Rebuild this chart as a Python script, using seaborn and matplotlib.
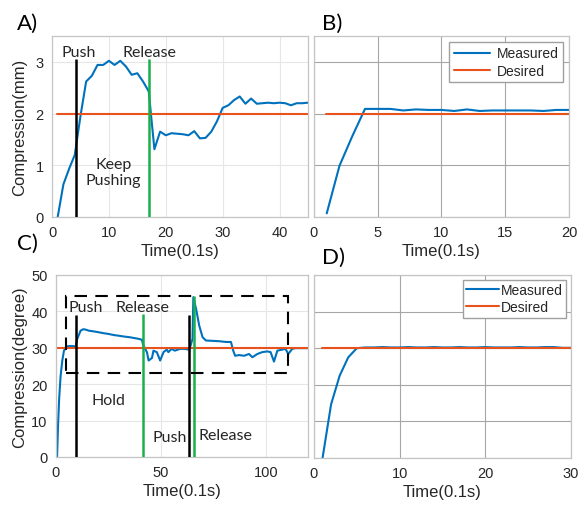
import matplotlib
matplotlib.use("Agg")
import matplotlib.pyplot as plt
from matplotlib.patches import Rectangle
import pandas as pd
import seaborn as sns

# ---- Panel A: linear compression (mm) with push / release events ----
a_time = list(range(1, 46))
a_measured = [0, 0.63, 0.93, 1.2, 1.95, 2.62, 2.73, 2.94, 2.94, 3.02,
              2.94, 3.02, 2.91, 2.75, 2.78, 2.62, 2.43, 1.31, 1.65, 1.58,
              1.62, 1.61, 1.60, 1.58, 1.66, 1.52, 1.53, 1.65, 1.85, 2.11,
              2.16, 2.26, 2.33, 2.19, 2.29, 2.19, 2.20, 2.21, 2.20, 2.21,
              2.20, 2.16, 2.20, 2.20, 2.21]
a_desired_time = [0.94, 45]
a_desired = [2, 2]
a_push_time = [4.2]
a_release_time = [17.0]
a_event_top = 3.05

# ---- Panel B: linear compression step response ----
b_time = list(range(1, 21))
b_measured = [0.07, 0.99, 1.56, 2.09, 2.09, 2.09, 2.06, 2.08, 2.07, 2.07,
              2.05, 2.08, 2.05, 2.06, 2.06, 2.06, 2.06, 2.05, 2.07, 2.07]
b_desired_time = [0.94, 20]
b_desired = [2, 2]

# ---- Panel C: angular compression (degree) with push / release events ----
c_time = [0.5, 1, 1.5, 2.2, 3, 3.8, 5.1, 7, 9.4, 10.1, 11.7, 13, 14.1, 15.6,
          18, 20, 22.7, 25, 27.5, 30, 32.2, 35, 37, 39, 40.9, 41.6, 43.3,
          44.1, 45.7, 46.4, 48, 49.6, 51.2, 52.7, 53.5, 55, 56.6, 59, 61.1,
          63.5, 65, 65.4, 66.7, 68.2, 69.8, 71.4, 74.6, 77.7, 80.9, 83.3,
          84.4, 85.3, 87.2, 89.6, 91.9, 93.5, 95.9, 98.2, 100.6, 102.2,
          103.8, 105.4, 107.7, 109.3, 110.6, 112.5, 114, 117, 120]
c_measured = [0, 9, 16, 22.3, 26.5, 29.2, 30.4, 30.5, 30.4, 32.4, 34.7, 35.1,
              35.0, 34.7, 34.5, 34.3, 34.0, 33.8, 33.5, 33.3, 33.1, 32.9,
              32.7, 32.5, 32.2, 30.6, 28.8, 26.5, 27.2, 29.2, 28.8, 26.5,
              28.8, 29.5, 28.8, 29.7, 29.2, 29.7, 29.7, 29.5, 32.4, 43.9,
              40.7, 36.1, 32.9, 32.0, 31.9, 31.8, 31.6, 31.6, 29.2, 27.8,
              28.0, 27.8, 28.3, 27.4, 28.3, 28.8, 29.0, 28.8, 26.2, 29.2,
              29.5, 29.7, 28.3, 29.7, 29.9, 29.9, 29.9]
c_desired_time = [0.5, 120]
c_desired = [30, 30]
c_push_time = [9.5, 63.5]
c_push_top = [39, 39]
c_release_time = [41.4, 65.9]
c_release_top = [39.3, 44.3]
c_box_time = [4.6, 110.3]
c_box_value = [23.0, 44.3]

# ---- Panel D: angular compression step response ----
d_time = list(range(1, 31))
d_measured = [0, 14.7, 22.5, 27.5, 30.0, 30.2, 30.2, 30.3, 30.2, 30.2,
              30.3, 30.2, 30.2, 30.3, 30.2, 30.2, 30.3, 30.2, 30.2, 30.3,
              30.2, 30.2, 30.2, 30.3, 30.2, 30.2, 30.3, 30.3, 30.1, 30.1]
d_desired_time = [0.97, 30]
d_desired = [30, 30]

BLUE = "#0072BD"
ORANGE = "#E8521C"
GREEN = "#19B04A"
NOTE_FONT = ["Lato", "DejaVu Sans"]

sns.set_theme(style="whitegrid")
plt.rcParams['font.family'] = ['Liberation Sans', 'DejaVu Sans']

fig = plt.figure(figsize=(5.87, 5.06), dpi=100)
ax_a = fig.add_axes([0.0886, 0.5692, 0.4361, 0.3577])
ax_b = fig.add_axes([0.5349, 0.5692, 0.4344, 0.3577])
ax_c = fig.add_axes([0.0954, 0.0949, 0.4293, 0.3597])
ax_d = fig.add_axes([0.5349, 0.0929, 0.4378, 0.3617])


def style_axes(ax, xlim, xticks, ylim, yticks, grid_color, show_ylabels):
    ax.set_facecolor("white")
    ax.set_xlim(*xlim)
    ax.set_ylim(*ylim)
    ax.set_xticks(xticks)
    ax.set_yticks(yticks)
    ax.grid(True, color=grid_color, linewidth=0.8)
    for s in ax.spines.values():
        s.set_visible(True)
        s.set_color("#c4c4c4")
        s.set_linewidth(0.9)
    ax.tick_params(axis="both", length=0, labelsize=10.5, colors="#262626", pad=6)
    if not show_ylabels:
        ax.set_yticklabels([])
    ax.set_xlabel("Time(0.1s)", fontsize=12, color="#262626", labelpad=3)


def draw_series(ax, t, m, td, d, legend):
    sns.lineplot(x=t, y=m, ax=ax, color=BLUE, linewidth=1.5,
                 label="Measured" if legend else None, legend=False)
    sns.lineplot(x=td, y=d, ax=ax, color=ORANGE, linewidth=1.5,
                 label="Desired" if legend else None, legend=False)


# Panel A
draw_series(ax_a, a_time, a_measured, a_desired_time, a_desired, False)
ax_a.vlines(a_push_time, 0, a_event_top, color="black", linewidth=1.8, zorder=4)
ax_a.vlines(a_release_time, 0, a_event_top, color=GREEN, linewidth=1.8, zorder=4)
style_axes(ax_a, (0, 45), [0, 10, 20, 30, 40], (0, 3.5), [0, 1, 2, 3],
           "#e6e6e6", True)
ax_a.set_ylabel("Compression(mm)", fontsize=12, color="#262626", labelpad=6)
ax_a.text(4.75, 3.2, "Push", ha="center", va="center", fontsize=11.5, family=NOTE_FONT)
ax_a.text(17.1, 3.2, "Release", ha="center", va="center", fontsize=11.5, family=NOTE_FONT)
ax_a.text(10.8, 0.87, "Keep\nPushing", ha="center", va="center", fontsize=11.5,
          family=NOTE_FONT, linespacing=1.25)

# Panel B
draw_series(ax_b, b_time, b_measured, b_desired_time, b_desired, True)
style_axes(ax_b, (0, 20), [0, 5, 10, 15, 20], (0, 3.5), [0, 1, 2, 3],
           "#a6a6a6", False)
ax_b.legend(loc="upper right", fontsize=10, frameon=True, fancybox=False,
            framealpha=1, edgecolor="#a0a0a0", borderaxespad=0.45,
            handlelength=2.6, handletextpad=0.5, borderpad=0.3, labelspacing=0.25)

# Panel C
draw_series(ax_c, c_time, c_measured, c_desired_time, c_desired, False)
ax_c.vlines(c_push_time, 0, c_push_top, color="black", linewidth=1.8, zorder=4)
ax_c.vlines(c_release_time, 0, c_release_top, color=GREEN, linewidth=1.8, zorder=4)
ax_c.add_patch(Rectangle((c_box_time[0], c_box_value[0]),
                         c_box_time[1] - c_box_time[0],
                         c_box_value[1] - c_box_value[0],
                         fill=False, edgecolor="black", linewidth=1.5,
                         linestyle=(0, (6, 4)), zorder=5))
style_axes(ax_c, (0, 120), [0, 50, 100], (0, 50), [0, 10, 20, 30, 40, 50],
           "#e6e6e6", True)
ax_c.set_ylabel("Compression(degree)", fontsize=12, color="#262626", labelpad=3)
ax_c.text(14.1, 41.3, "Push", ha="center", va="center", fontsize=11.5, family=NOTE_FONT)
ax_c.text(41.1, 41.3, "Release", ha="center", va="center", fontsize=11.5, family=NOTE_FONT)
ax_c.text(25.1, 15.7, "Hold", ha="center", va="center", fontsize=11.5, family=NOTE_FONT)
ax_c.text(54.0, 5.6, "Push", ha="center", va="center", fontsize=11.5, family=NOTE_FONT)
ax_c.text(80.9, 6.0, "Release", ha="center", va="center", fontsize=11.5, family=NOTE_FONT)

# Panel D
draw_series(ax_d, d_time, d_measured, d_desired_time, d_desired, True)
style_axes(ax_d, (0, 30), [0, 10, 20, 30], (0, 50), [0, 10, 20, 30, 40, 50],
           "#a6a6a6", False)
ax_d.legend(loc="upper right", fontsize=10, frameon=True, fancybox=False,
            framealpha=1, edgecolor="#a0a0a0", borderaxespad=0.35,
            handlelength=2.4, handletextpad=0.1, borderpad=0.25, labelspacing=0.2)

# Panel letters
for x, y, s in [(17, 24, "A)"), (322, 24, "B)"), (17, 244, "C)"), (322, 258, "D)")]:
    fig.text(x / 587, 1 - y / 506, s, ha="left", va="center", fontsize=16,
             family=NOTE_FONT, color="black")

fig.savefig("out.png", dpi=100)
